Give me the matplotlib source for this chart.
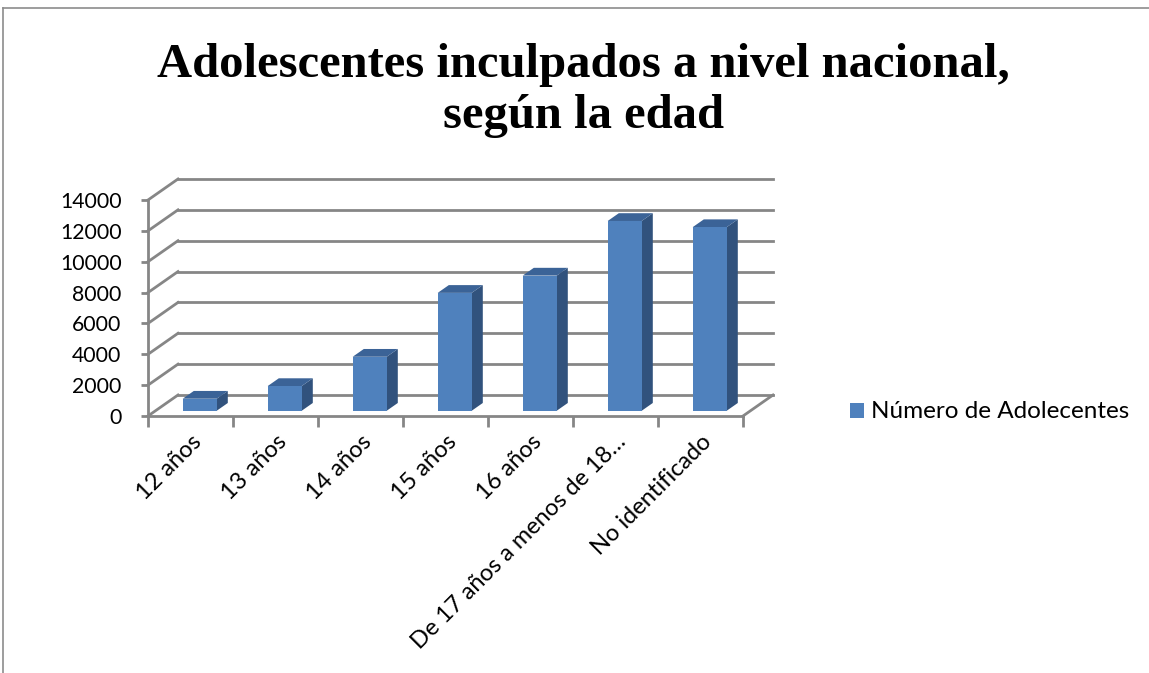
import matplotlib
matplotlib.use("Agg")
import matplotlib.pyplot as plt
from matplotlib.patches import Polygon, Rectangle
from matplotlib.lines import Line2D

categories = ["12 años", "13 años", "14 años", "15 años", "16 años",
              "De 17 años a menos de 18…", "No identificado"]
values = [780, 1600, 3500, 7640, 8760, 12300, 11900]
yticks = [0, 2000, 4000, 6000, 8000, 10000, 12000, 14000]
series_name = "Número de Adolecentes"
title_lines = ["Adolescentes inculpados a nivel nacional,", "según la edad"]

W, H = 1149, 673
fig = plt.figure(figsize=(W / 100, H / 100), dpi=100)
fig.patch.set_facecolor("white")

# front plane of the plot in pixels
x0, x1 = 148, 743
y_bot, y_top = 416, 200
ax = fig.add_axes([x0 / W, 1 - y_bot / H, (x1 - x0) / W, (y_bot - y_top) / H])
n = len(categories)
ymax = 14000
ax.set_xlim(0, n)
ax.set_ylim(0, ymax)
ax.set_facecolor("none")

px_x = (x1 - x0) / n          # pixels per category
px_y = (y_bot - y_top) / ymax  # pixels per value unit
DX = 30 / px_x                 # full depth in data units
DY = 21 / px_y

grid_c = "#868686"
lw = 2.0

# back wall gridlines and left wall diagonals
for t in yticks:
    ax.add_line(Line2D([0, DX], [t, t + DY], color=grid_c, lw=lw, clip_on=False))
    ax.add_line(Line2D([DX, n + DX], [t + DY, t + DY], color=grid_c, lw=lw, clip_on=False))
# floor right diagonal
ax.add_line(Line2D([n, n + DX], [0, DY], color=grid_c, lw=lw, clip_on=False))

# spines (front edges)
for s in ["top", "right"]:
    ax.spines[s].set_visible(False)
for s in ["left", "bottom"]:
    ax.spines[s].set_color(grid_c)
    ax.spines[s].set_linewidth(lw)

# bars
front_c, side_c, top_c = "#4F81BD", "#31527D", "#3B6397"
f0 = 0.25
bd = 0.37
bw = 0.40
ox, oy = f0 * DX, f0 * DY
bdx, bdy = bd * DX, bd * DY
for i, v in enumerate(values):
    c = i + 0.5 + 0.02
    xl = c - bw / 2 + ox
    xr = c + bw / 2 + ox
    yb = oy
    yt = oy + v
    ax.add_patch(Polygon([(xr, yb), (xr + bdx, yb + bdy), (xr + bdx, yt + bdy), (xr, yt)],
                         closed=True, facecolor=side_c, edgecolor="none", clip_on=False, zorder=3))
    ax.add_patch(Polygon([(xl, yt), (xr, yt), (xr + bdx, yt + bdy), (xl + bdx, yt + bdy)],
                         closed=True, facecolor=top_c, edgecolor="none", clip_on=False, zorder=3))
    ax.add_patch(Rectangle((xl, yb), bw, v, facecolor=front_c, edgecolor="none",
                           clip_on=False, zorder=3))

font = "Lato"
ax.set_yticks(yticks)
ax.set_yticklabels([str(t) for t in yticks], fontsize=15.3, family=font)
ax.tick_params(axis="y", length=5, width=lw, color=grid_c, pad=14)

ax.set_xticks([i + 0.5 for i in range(n)])
ax.set_xticklabels(categories, rotation=45, ha="right", rotation_mode="anchor",
                   fontsize=17, family=font)
ax.tick_params(axis="x", which="major", length=0, pad=11)
ax.set_xticks(list(range(n + 1)), minor=True)
ax.tick_params(axis="x", which="minor", length=8, width=lw, color=grid_c)

# title
fig.text(583 / W, 1 - 77 / H, title_lines[0], ha="center", va="baseline",
         fontsize=35, fontweight="bold", family="Liberation Serif")
fig.text(583 / W, 1 - 128 / H, title_lines[1], ha="center", va="baseline",
         fontsize=35, fontweight="bold", family="Liberation Serif")

# legend
fig.patches.append(Rectangle((850 / W, 1 - 418 / H), 14 / W, 15 / H, transform=fig.transFigure,
                             facecolor=front_c, edgecolor="none"))
fig.text(871 / W, 1 - 411 / H, series_name, ha="left", va="center", fontsize=17.5, family=font)

# frame
fig.add_artist(Line2D([3 / W, 1], [1 - 8 / H, 1 - 8 / H], transform=fig.transFigure,
                      color="#8c8c8c", lw=1.2))
fig.add_artist(Line2D([3 / W, 3 / W], [1 - 8 / H, 0], transform=fig.transFigure,
                      color="#8c8c8c", lw=1.2))

fig.savefig("out.png", dpi=100)
